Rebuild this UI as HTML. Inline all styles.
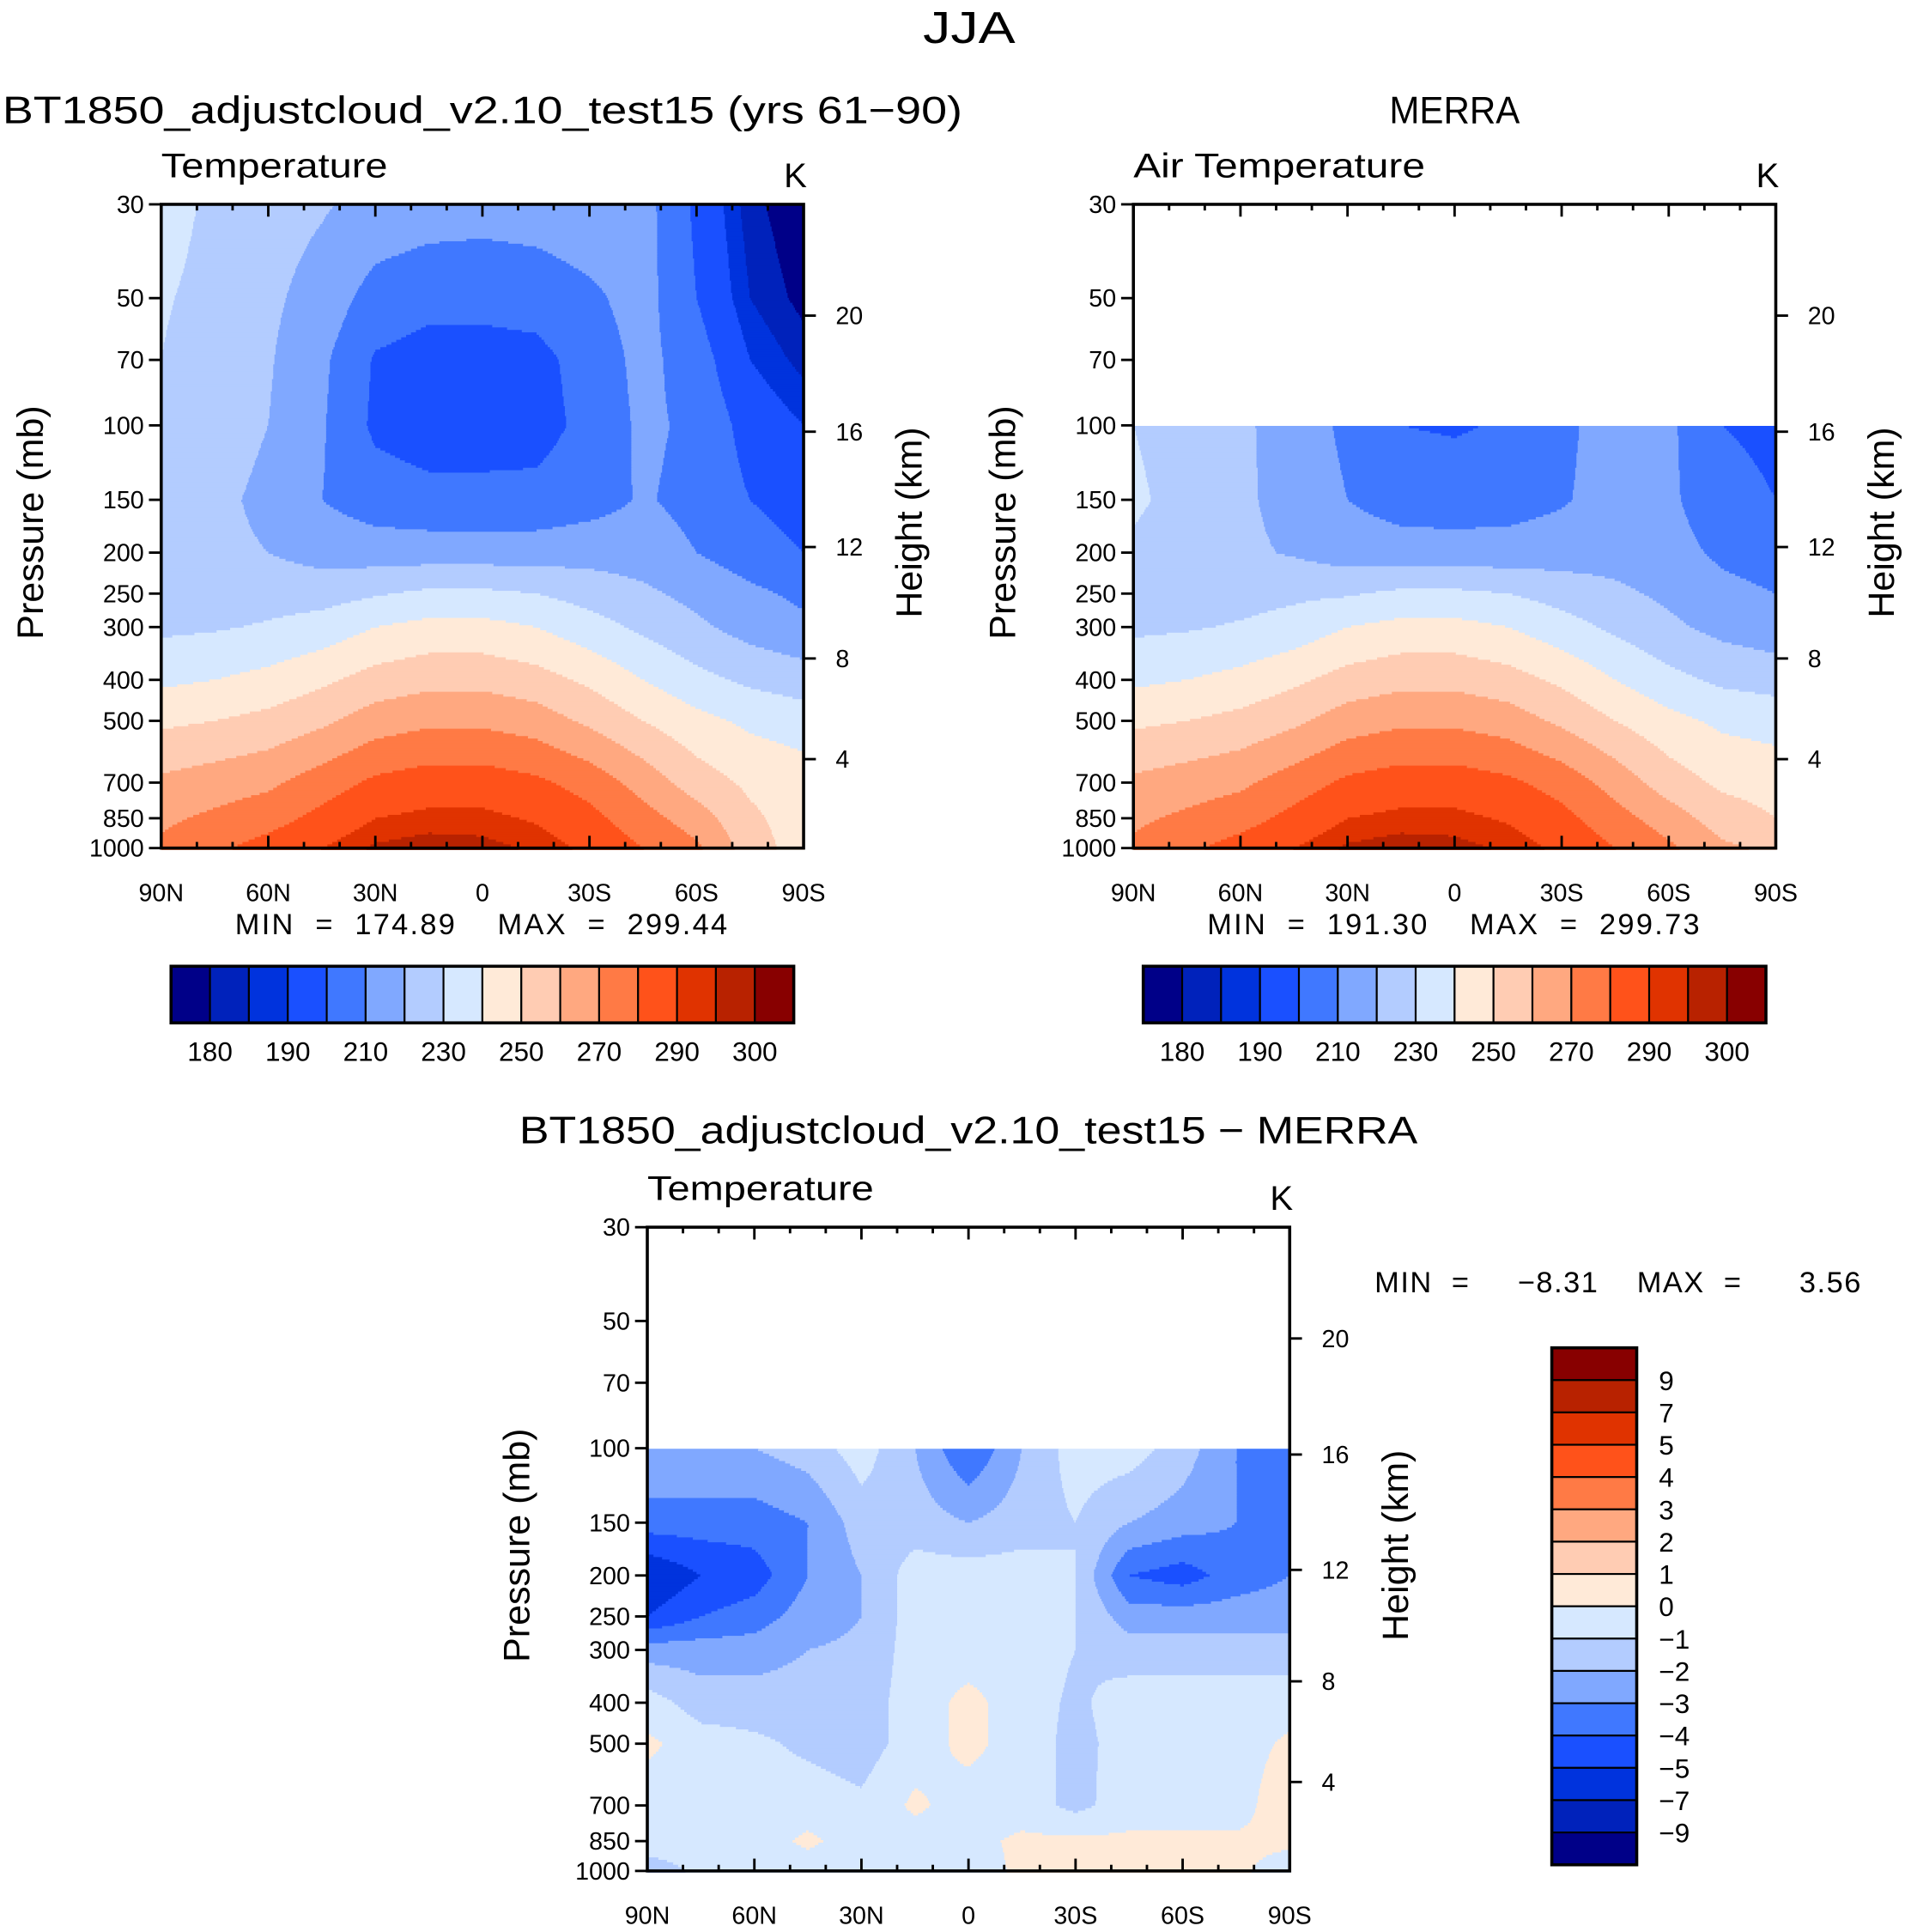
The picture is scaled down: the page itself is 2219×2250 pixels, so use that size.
<!DOCTYPE html>
<html><head><meta charset="utf-8"><style>
html,body{margin:0;padding:0;background:#fff}
svg{display:block}
text{font-family:"Liberation Sans",sans-serif;fill:#000;white-space:pre}
</style></head><body>
<svg id="root" xmlns="http://www.w3.org/2000/svg" width="2219" height="2250" viewBox="0 0 1548 1569.6">
<rect width="1548" height="1570" fill="#fff"/>
<text x="750" y="35" font-size="36" textLength="75" lengthAdjust="spacingAndGlyphs">JJA</text>
<text x="2" y="100" font-size="31" textLength="780" lengthAdjust="spacingAndGlyphs">BT1850_adjustcloud_v2.10_test15 (yrs 61−90)</text>
<text x="1129" y="100" font-size="31" textLength="106" lengthAdjust="spacingAndGlyphs">MERRA</text>
<text x="422" y="929" font-size="31" textLength="730" lengthAdjust="spacingAndGlyphs">BT1850_adjustcloud_v2.10_test15 − MERRA</text>
<g id="layer"></g>
</svg>
<script>
// ---- data ----
const lats = [90,75,60,45,30,15,0,-15,-30,-45,-60,-75,-90];
const levels = [30,50,70,100,150,200,250,300,400,500,700,850,1000];
const tempLevels = [180,185,190,200,210,220,230,240,250,260,270,280,290,295,300];
const tempTickLabels = ["180","190","210","230","250","270","290","300"];
const diffLevels = [-9,-7,-5,-4,-3,-2,-1,0,1,2,3,4,5,7,9];
const diffTickLabels = ["9","7","5","4","3","2","1","0","−1","−2","−3","−4","−5","−7","−9"];
const palette = ["#000088","#0022bb","#0033dd","#1a50ff","#4078ff","#80a8ff","#b3ccff","#d6e8ff","#ffead8","#ffccb3","#ffa880","#ff7a45","#ff521a","#e03300","#b82200","#880000"];
const modelT = [
 [234,228,224,221,217,215,214,215,217,214,198,182,175],
 [231,227,222,216,206,203,203,204,208,214,200,185,178],
 [230,225,221,212,199,196,196,197,204,213,205,190,183],
 [228,224,220,211,198,195,195,196,203,212,208,196,190],
 [226,222,218,210,205,203,203,203,206,211,207,200,195],
 [224,222,220,216,215,215,215,215,216,215,210,205,200],
 [225,225,226,226,229,232,232,230,226,222,217,212,208],
 [228,229,231,234,240,243,243,240,234,228,222,216,212],
 [238,240,243,248,254,257,257,254,248,240,233,228,225],
 [248,250,253,258,265,268,268,265,258,250,243,238,235],
 [262,265,268,275,282,285,285,282,276,266,255,248,245],
 [268,272,276,283,290,292,292,289,283,274,265,252,245],
 [272,278,284,290,296,298,297,294,288,280,272,255,245]];
const merraT = [
 [null,null,null,null,null,null,null,null,null,null,null,null,null],
 [null,null,null,null,null,null,null,null,null,null,null,null,null],
 [null,null,null,null,null,null,null,null,null,null,null,null,null],
 [230,225,222,215,208,200,199,201,208,214,212,200,198],
 [232,226,222,216,210,206,205,206,209,214,212,203,200],
 [228,224,222,219,215,214,214,214,215,216,214,208,205],
 [226,226,226,228,229,232,232,230,226,222,218,213,210],
 [228,229,231,234,240,243,243,240,234,228,222,217,214],
 [238,240,243,248,254,257,257,254,248,240,233,228,226],
 [248,250,253,258,265,268,268,265,258,250,243,238,236],
 [262,265,268,275,282,285,285,282,276,266,255,248,246],
 [268,272,276,283,290,292,292,289,283,274,265,255,250],
 [272,278,284,290,296,298,297,294,288,280,272,262,258]];
const diffT = [
 [null,null,null,null,null,null,null,null,null,null,null,null,null],
 [null,null,null,null,null,null,null,null,null,null,null,null,null],
 [null,null,null,null,null,null,null,null,null,null,null,null,null],
 [-2,-2,-2,-1.5,-0.5,-2,-4,-2,-0.5,-0.5,-1.5,-3,-3],
 [-3.5,-3.5,-3.5,-3,-1.5,-1.5,-2,-1.5,-1,-2,-2.5,-3,-3.5],
 [-6,-5,-4.5,-3,-2,-0.5,-0.5,-0.5,-1,-4,-4.5,-3.5,-3],
 [-5,-4,-3.5,-2.5,-2,-0.5,-0.5,-0.5,-1,-2.5,-2.5,-2.5,-2.5],
 [-2.5,-2.5,-2.5,-2,-1.8,-0.5,-0.5,-0.5,-1,-1.5,-1.5,-1.5,-1.5],
 [-0.5,-1.5,-1.5,-1.5,-1.5,-0.5,0.3,-0.5,-1.2,-0.5,-0.5,-0.5,-0.5],
 [0.2,-0.5,-0.8,-1.2,-1.5,-0.5,0.3,-0.5,-1.3,-0.6,-0.5,-0.5,0.2],
 [-0.5,-0.5,-0.5,-0.5,-0.8,0.2,-0.5,-0.5,-1.3,-0.5,-0.5,-0.5,0.8],
 [-0.5,-0.5,-0.5,0.2,-0.5,-0.5,-0.3,0.2,0.2,0.2,0.2,0.2,0.2],
 [-1.5,-0.8,-0.5,-0.5,-1,-0.5,-0.5,0.2,0.2,0.2,0.2,0.2,-0.5]];
const yTickLabels = ["30","50","70","100","150","200","250","300","400","500","700","850","1000"];
const xTickLabels = ["90N","60N","30N","0","30S","60S","90S"];
const heightTicks = [20,16,12,8,4];
const heightPressures = [55,103.5,194,356,616];

// ---- rendering ----
const NS="http://www.w3.org/2000/svg";
const layer=document.getElementById('layer');
function mk(tag,attrs,parent){const e=document.createElementNS(NS,tag);for(const k in attrs)e.setAttribute(k,attrs[k]);(parent||layer).appendChild(e);return e;}
function txt(s,attrs,parent){const e=mk('text',attrs,parent);e.textContent=s;return e;}
function colorIdx(v,lv){let i=0;while(i<lv.length&&v>=lv[i])i++;return i;}
function sample(grid,lat,p){
  let fx=(90-lat)/15; let i0=Math.min(Math.floor(fx),11); let tx=fx-i0;
  const lp=Math.log(p); let j0=0;
  for(let j=0;j<levels.length-1;j++){ if(p>=levels[j]&&p<=levels[j+1]){j0=j;break;} }
  const ty=(lp-Math.log(levels[j0]))/(Math.log(levels[j0+1])-Math.log(levels[j0]));
  const a=grid[j0][i0],b=grid[j0][i0+1],c=grid[j0+1][i0],d=grid[j0+1][i0+1];
  if(a==null||b==null||c==null||d==null) return null;
  return (a*(1-tx)+b*tx)*(1-ty)+(c*(1-tx)+d*tx)*ty;
}
function drawPanel(name,x0,y0,grid,lv,subtitle,subLen){
  const W=522,H=523;
  const xs=lat=>x0+(90-lat)/180*W;
  const ys=p=>y0+(Math.log10(p)-Math.log10(30))/(3-Math.log10(30))*H;
  const g=mk('g',{});
  
  
  const step=2;
  for(let py=0;py<H;py+=step){
    const p=Math.pow(10,Math.log10(30)+(py+step/2)/H*(3-Math.log10(30)));
    let runStart=0,runC=null;
    for(let px=0;px<=W;px+=1){
      let c=null;
      if(px<W){const lat=90-(px+0.5)/W*180;const v=sample(grid,lat,p);c=v==null?null:colorIdx(v,lv);}
      if(px===W||c!==runC){
        if(runC!==null&&px>runStart){
          const r=mk('rect',{x:x0+runStart,y:y0+py,width:px-runStart+0.6,height:step+0.6,fill:palette[runC]},g);
          
          
        }
        runStart=px;runC=c;
      }
    }
  }
  const fr=mk('rect',{x:x0,y:y0,width:W,height:H,fill:'none',stroke:'#000','stroke-width':2.5});
  
  
  levels.forEach((p,i)=>{
    const y=ys(p);
    mk('line',{x1:x0-10,x2:x0,y1:y,y2:y,stroke:'#000','stroke-width':2});
    const t=txt(yTickLabels[i],{x:x0-14,y:y+7,'font-size':20,'text-anchor':'end'});
    
    
  });
  for(let lat=90;lat>=-90;lat-=10){
    const x=xs(lat);const major=lat%30===0;
    mk('line',{x1:x,x2:x,y1:y0+H,y2:y0+H-(major?10:5),stroke:'#000','stroke-width':2});
    mk('line',{x1:x,x2:x,y1:y0,y2:y0+(major?10:5),stroke:'#000','stroke-width':2});
  }
  xTickLabels.forEach((s,i)=>{
    const t=txt(s,{x:x0+i*W/6,y:y0+H+43,'font-size':20,'text-anchor':'middle'});
    
    
  });
  heightTicks.forEach((h,i)=>{
    const y=ys(heightPressures[i]);
    mk('line',{x1:x0+W,x2:x0+W+10,y1:y,y2:y,stroke:'#000','stroke-width':2});
    const t=txt(String(h),{x:x0+W+26,y:y+7,'font-size':20});
    
    
  });
  const st=txt(subtitle,{x:x0,y:y0-22,'font-size':28,textLength:subLen,lengthAdjust:'spacingAndGlyphs'});
  
  
  const k=txt('K',{x:x0+W-16,y:y0-14,'font-size':28});
  
  
  const yl=txt('Pressure (mb)',{x:0,y:0,'font-size':30,'text-anchor':'middle',transform:`translate(${x0-96},${y0+H/2-3}) rotate(-90)`});
  
  
  const hl=txt('Height (km)',{x:0,y:0,'font-size':30,'text-anchor':'middle',transform:`translate(${x0+W+96},${y0+H/2-3}) rotate(-90)`});
  
  
}
function hColorbar(name,x0,y0,min,max){
  const w=506/16,h=46;
  palette.forEach((c,i)=>{
    const r=mk('rect',{x:x0+i*w,y:y0,width:w,height:h,fill:c,stroke:'#000','stroke-width':1.5});
    
    
  });
  mk('rect',{x:x0,y:y0,width:506,height:h,fill:'none',stroke:'#000','stroke-width':2.5});
  tempTickLabels.forEach((s,i)=>{
    const t=txt(s,{x:x0+(2*i+1)*w,y:y0+77,'font-size':22,'text-anchor':'middle'});
    
    
  });
  const m=txt(`MIN  =  ${min}    MAX  =  ${max}`,{x:x0+52,y:y0-26,'font-size':24,textLength:400,lengthAdjust:'spacing'});
  
  
}
drawPanel('model',131,166,modelT,tempLevels,'Temperature',184);
drawPanel('merra',921,166,merraT,tempLevels,'Air Temperature',237);
drawPanel('diff',526,997,diffT,diffLevels,'Temperature',184);
hColorbar('model',139,785,'174.89','299.44');
hColorbar('merra',929,785,'191.30','299.73');
(function(){
  const x0=1261,y0=1095,W=69,hh=420/16;
  for(let i=0;i<16;i++){
    const r=mk('rect',{x:x0,y:y0+i*hh,width:W,height:hh,fill:palette[15-i],stroke:'#000','stroke-width':1.5});
    
    
  }
  mk('rect',{x:x0,y:y0,width:W,height:420,fill:'none',stroke:'#000','stroke-width':2.5});
  diffTickLabels.forEach((s,i)=>{
    const t=txt(s,{x:x0+W+18,y:y0+(i+1)*hh+8,'font-size':22});
    
    
  });
  const m=txt('MIN  =     −8.31    MAX  =      3.56',{x:1117,y:1050,'font-size':24,textLength:395,lengthAdjust:'spacing'});
  
  
})();
</script>
</body></html>
